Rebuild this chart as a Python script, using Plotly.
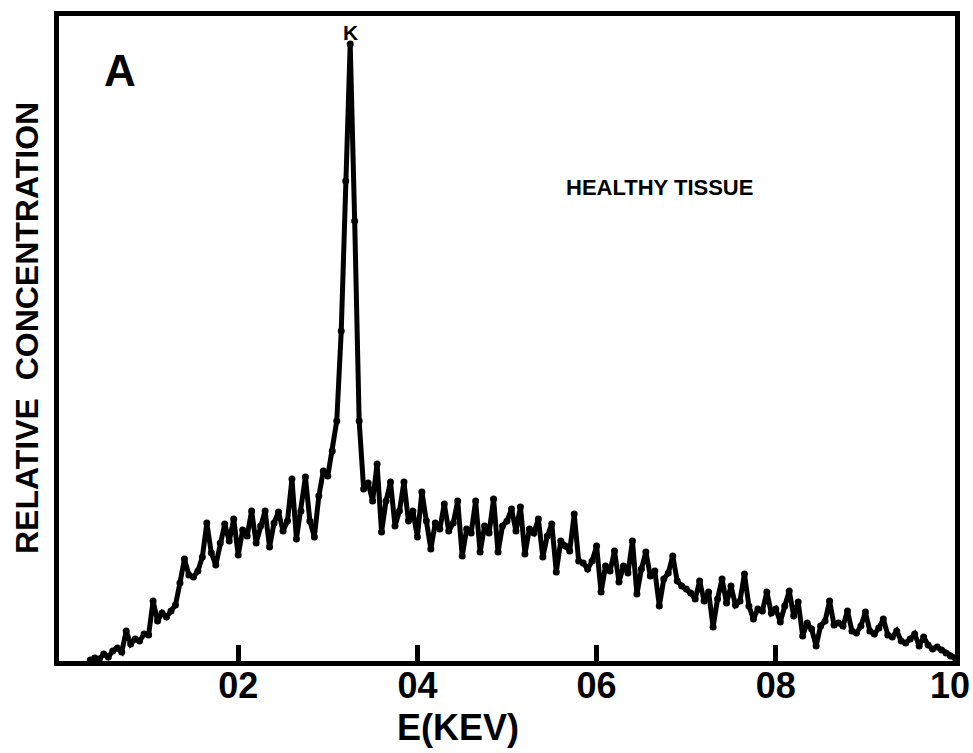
import numpy as np
import plotly.graph_objects as go

# Energy grid (keV), channel spacing 0.05 keV starting at 0.35 keV
e_start = 0.35
e_step = 0.05

# Relative concentration (arbitrary units), read channel by channel from the picture
counts = [
    1, 3, 2, 7, 4, 10, 13, 9, 30, 17,            # 0.35 - 0.80
    22, 20, 27, 26, 60, 40, 48, 44, 50, 56,       # 0.85 - 1.30
    78, 102, 86, 84, 90, 104, 138, 108, 96, 118,  # 1.35 - 1.80
    137, 120, 142, 106, 131, 125, 150, 118, 135, 150,  # 1.85 - 2.30
    114, 138, 149, 130, 140, 182, 122, 150, 184, 140,  # 2.35 - 2.80
    124, 165, 190, 185, 210, 240, 330, 480, 617, 440,  # 2.85 - 3.30
    240, 172, 178, 160, 197, 129, 160, 179, 135, 150,  # 3.35 - 3.80
    179, 140, 150, 124, 169, 140, 112, 138, 132, 157,  # 3.85 - 4.30
    130, 138, 160, 105, 132, 128, 160, 109, 135, 128,  # 4.35 - 4.80
    162, 109, 135, 140, 152, 130, 154, 107, 132, 128,  # 4.85 - 5.30
    142, 104, 125, 137, 89, 120, 115, 110, 147, 100,   # 5.35 - 5.80
    98, 92, 100, 115, 69, 95, 90, 110, 79, 95,         # 5.85 - 6.30
    88, 120, 67, 92, 109, 85, 90, 55, 82, 88,          # 6.35 - 6.80
    105, 80, 75, 72, 68, 62, 80, 60, 69, 34,           # 6.85 - 7.30
    62, 82, 58, 75, 56, 60, 87, 55, 42, 52,            # 7.35 - 7.80
    50, 69, 48, 52, 39, 55, 70, 45, 59, 25,            # 7.85 - 8.30
    38, 32, 15, 35, 40, 60, 36, 38, 35, 50,            # 8.35 - 8.80
    30, 28, 35, 49, 30, 27, 33, 42, 26, 24,            # 8.85 - 9.30
    30, 20, 18, 22, 27, 15, 24, 16, 12, 14,            # 9.35 - 9.80
    11, 8, 5, 3,                                       # 9.85 - 10.00
]
energy = np.round(e_start + e_step * np.arange(len(counts)), 2)

tick_vals = [2, 4, 6, 8, 10]
tick_text = ["02", "04", "06", "08", "10\u00a0"]

peak_label = "K"
peak_energy = 3.25
panel_label = "A"
sample_label = "HEALTHY TISSUE"
x_title = "E(KEV)"
y_title = "RELATIVE  CONCENTRATION"

FONT = "Liberation Sans, Arial, DejaVu Sans, sans-serif"

W, H = 973, 753
L, R, T, B = 59, 18, 16, 92
pw, ph = W - L - R, H - T - B
Y_MAX = 645

def px_x(x):
    return (x - L) / pw

def px_y(y):
    return (H - B - y) / ph

fig = go.Figure()
fig.add_trace(go.Scatter(
    x=energy, y=counts, mode="lines+markers",
    line=dict(color="black", width=5),
    marker=dict(color="black", size=7),
    hoverinfo="skip", showlegend=False,
))

fig.update_layout(
    template="none",
    width=W, height=H,
    margin=dict(l=L, r=R, t=T, b=B, autoexpand=False),
    paper_bgcolor="white", plot_bgcolor="white",
    font=dict(family=FONT, color="black"),
    xaxis=dict(
        range=[0, 10], showgrid=False, zeroline=False, automargin=False,
        showline=True, linecolor="black", linewidth=5, mirror=True,
        tickmode="array", tickvals=tick_vals, ticktext=tick_text,
        ticks="inside", ticklen=16, tickwidth=5, tickcolor="#000000",
        ticklabeloverflow="allow", ticklabelstandoff=-11,
        tickfont=dict(family=FONT, size=36, color="black", weight="bold"),
        layer="above traces",
    ),
    yaxis=dict(
        range=[0, Y_MAX], showgrid=False, zeroline=False, automargin=False,
        showline=True, linecolor="black", linewidth=5, mirror=True,
        showticklabels=False, ticks="",
    ),
    annotations=[
        dict(text=f"<b>{x_title}</b>", xref="paper", yref="paper",
             x=px_x(458), y=px_y(727), showarrow=False,
             xanchor="center", yanchor="middle",
             font=dict(family=FONT, size=36, color="black")),
        dict(text=f"<b>{y_title}</b>", xref="paper", yref="paper",
             x=px_x(27), y=px_y(328), showarrow=False, textangle=-90,
             xanchor="center", yanchor="middle",
             font=dict(family=FONT, size=32, color="black")),
        dict(text=f"<b>{sample_label}</b>", xref="x", yref="y",
             x=6.7, y=474, showarrow=False,
             xanchor="center", yanchor="middle",
             font=dict(family=FONT, size=22, color="black")),
        dict(text=f"<b>{panel_label}</b>", xref="x", yref="y",
             x=0.68, y=591, showarrow=False,
             xanchor="center", yanchor="middle",
             font=dict(family=FONT, size=44, color="black")),
        dict(text=f"<b>{peak_label}</b>", xref="x", yref="y",
             x=peak_energy, y=629, showarrow=False,
             xanchor="center", yanchor="middle",
             font=dict(family=FONT, size=21, color="black")),
    ],
)

fig.write_html(
    "out.html",
    config={"displayModeBar": False},
    post_script="document.body.style.margin='0';"
                "document.documentElement.style.overflow='hidden';",
)
